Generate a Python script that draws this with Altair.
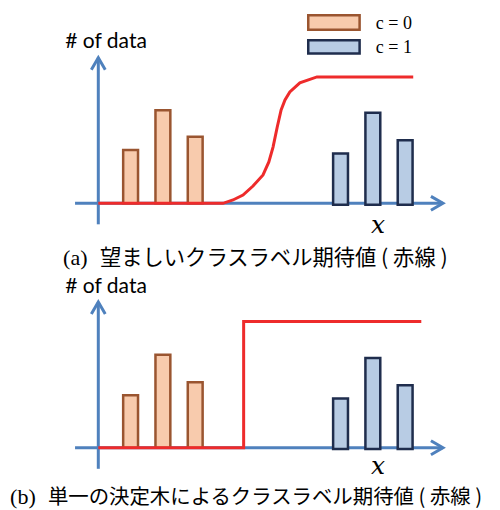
import altair as alt
import pandas as pd

# ---- data (diagram values) ----
c0_x = [1, 2, 3]
c0_count_a = [4, 7, 5]
c0_count_b = [3.95, 7.0, 4.92]
c1_x = [7.5, 8.5, 9.5]
c1_count_a = [3.85, 6.9, 4.85]
c1_count_b = [3.8, 6.85, 4.8]

sig_x = [0, 3.86, 4.17, 4.48, 4.79, 5.10, 5.28, 5.41, 5.54, 5.66, 5.78, 5.93, 6.24, 6.77, 9.75]
sig_y = [0, 0, 0.25, 0.62, 1.30, 2.13, 3.11, 4.23, 5.74, 7.02, 7.77, 8.37, 9.05, 9.50, 9.5]
step_x = [0, 4.5, 4.5, 10.0]
step_y = [0, 0, 9.5, 9.5]

legend_labels = ["c = 0", "c = 1"]
y_label = "# of data"
x_label = "x"
cap_a = ["(a)", "望ましいクラスラベル期待値 ( 赤線 )"]
cap_b = ["(b)", "単一の決定木によるクラスラベル期待値 ( 赤線 )"]

AXIS_C = "#4F81BD"
RED = "#EE2B2B"
C0_FILL, C0_STROKE = "#F8CBAD", "#9A5530"
C1_FILL, C1_STROKE = "#B8CCE4", "#1F2D4D"

W = 484
X_DOM = [-2.7957, 12.189]
HALF = 0.23
C1_BASE = -0.1
ARROW = "M-0.58,1L0,0L0.58,1"


def panel(height, y_dom, c0_count, c1_count, cx, cy, caption, cap_pos, cap_size, legend, xlab_y):
    xs = alt.Scale(domain=X_DOM, nice=False, zero=False)
    ys = alt.Scale(domain=y_dom, nice=False, zero=False)

    def X(f):
        return alt.X(f, type="quantitative", scale=xs, axis=None)

    def Y(f):
        return alt.Y(f, type="quantitative", scale=ys, axis=None)

    layers = []
    axes = pd.DataFrame({"x": [-0.72, 0], "x2": [10.67, 0], "y": [0, -1.58], "y2": [0, 10.95]})
    layers.append(alt.Chart(axes).mark_rule(color=AXIS_C, strokeWidth=3).encode(
        x=X("x"), x2="x2", y=Y("y"), y2="y2"))
    tips = pd.DataFrame({"x": [10.67, 0], "y": [0, 10.95], "a": [90, 0]})
    layers.append(alt.Chart(tips).mark_point(shape=ARROW, size=576, filled=False,
                                             stroke=AXIS_C, strokeWidth=3, opacity=1).encode(
        x=X("x"), y=Y("y"), angle=alt.Angle("a:Q", scale=None)))

    b0 = pd.DataFrame({"x": [v - HALF for v in c0_x], "x2": [v + HALF for v in c0_x],
                       "y": [0] * 3, "y2": c0_count})
    layers.append(alt.Chart(b0).mark_rect(fill=C0_FILL, stroke=C0_STROKE, strokeWidth=2.5).encode(
        x=X("x"), x2="x2", y=Y("y"), y2="y2"))

    curve = pd.DataFrame({"x": cx, "y": cy, "i": list(range(len(cx)))})
    layers.append(alt.Chart(curve).mark_line(color=RED, strokeWidth=3).encode(
        x=X("x"), y=Y("y"), order="i:Q"))

    b1 = pd.DataFrame({"x": [v - HALF for v in c1_x], "x2": [v + HALF for v in c1_x],
                       "y": [C1_BASE] * 3, "y2": [C1_BASE + v for v in c1_count]})
    layers.append(alt.Chart(b1).mark_rect(fill=C1_FILL, stroke=C1_STROKE, strokeWidth=2.5).encode(
        x=X("x"), x2="x2", y=Y("y"), y2="y2"))

    if legend:
        lg = pd.DataFrame({"x": [6.5, 6.5], "x2": [8.09, 8.09], "y": [13.05, 11.26],
                           "y2": [14.14, 12.26], "lab": legend_labels,
                           "f": [C0_FILL, C1_FILL], "s": [C0_STROKE, C1_STROKE],
                           "ty": [13.08, 11.28], "tx": [8.59, 8.59]})
        layers.append(alt.Chart(lg).mark_rect(strokeWidth=2.5).encode(
            x=X("x"), x2="x2", y=Y("y"), y2="y2",
            fill=alt.Fill("f:N", scale=None), stroke=alt.Stroke("s:N", scale=None)))
        layers.append(alt.Chart(lg).mark_text(font="Liberation Serif", fontSize=18, align="left",
                                              baseline="alphabetic", color="black").encode(
            x=X("tx"), y=Y("ty"), text="lab:N"))

    yl = pd.DataFrame({"x": [0.24], "y": [11.65], "t": [y_label]})
    layers.append(alt.Chart(yl).mark_text(font="Lato", fontSize=21, align="center",
                                          baseline="alphabetic", color="black").encode(
        x=X("x"), y=Y("y"), text="t:N"))
    xl = pd.DataFrame({"x": [8.66], "y": [xlab_y], "t": [x_label]})
    layers.append(alt.Chart(xl).mark_text(font="DejaVu Serif", fontStyle="italic", fontSize=25,
                                          align="center", baseline="alphabetic", color="black").encode(
        x=X("x"), y=Y("y"), text="t:N"))

    cp1 = pd.DataFrame({"x": [cap_pos[0]], "y": [cap_pos[2]], "t": [caption[0]]})
    layers.append(alt.Chart(cp1).mark_text(font="Liberation Serif", fontSize=22, align="left",
                                           baseline="alphabetic", color="black").encode(
        x=X("x"), y=Y("y"), text="t:N"))
    cp2 = pd.DataFrame({"x": [cap_pos[1]], "y": [cap_pos[2]], "t": [caption[1]]})
    layers.append(alt.Chart(cp2).mark_text(font="Noto Sans CJK JP", fontSize=cap_size, align="left",
                                           baseline="alphabetic", color="black").encode(
        x=X("x"), y=Y("y"), text="t:N"))

    return alt.layer(*layers).properties(width=W, height=height)


top = panel(264, [-5.165, 14.684], c0_count_a, c1_count_a, sig_x, sig_y,
            cap_a, (-1.09, 0.05, -4.64), 21.3, True, -2.2)
bottom = panel(238, [-4.677, 13.211], c0_count_b, c1_count_b, step_x, step_y,
               cap_b, (-2.73, -1.56, -4.23), 20.4, False, -1.94)

chart = alt.vconcat(top, bottom, spacing=0).properties(padding=0).configure_view(stroke=None)
chart.save("out.html", embed_options={"renderer": "svg", "actions": False})
